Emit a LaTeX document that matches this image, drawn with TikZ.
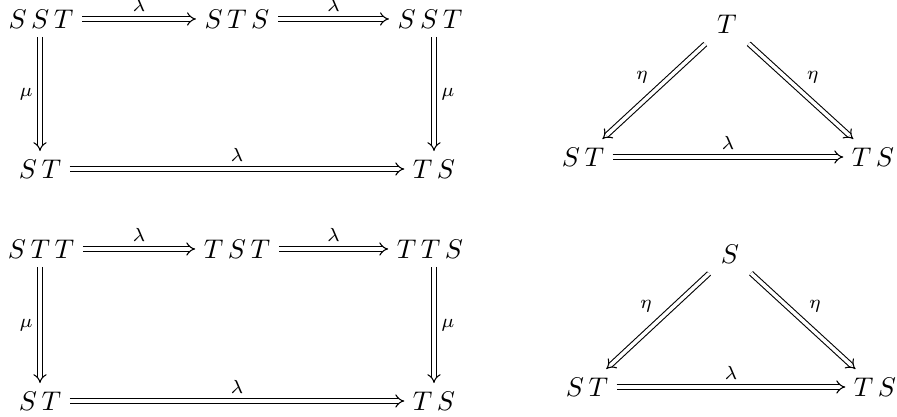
\documentclass[tikz,border=0pt]{standalone}
\usetikzlibrary{arrows.meta}
\begin{document}
\begin{tikzpicture}[x=0.37pt,y=-0.37pt,
  obj/.style={inner sep=2pt, anchor=center},
  dbl/.style={double, double distance=1.3pt, line width=0.4pt, -{Implies}, shorten >=1pt, shorten <=1pt},
  diag/.style={dbl, shorten <=3pt, shorten >=1.5pt},
  lbl/.style={font=\scriptsize, inner sep=2.5pt}]
\useasboundingbox (0,0) rectangle (897,417);
% square 1
\node[obj] (a1) at (41,19) {$S\,S\,T$};
\node[obj] (a2) at (237,19) {$S\,T\,S$};
\node[obj] (a3) at (430,19) {$S\,S\,T$};
\node[obj] (a4) at (40,169) {$S\,T$};
\node[obj] (a5) at (434,169) {$T\,S$};
\draw[dbl] (a1) -- node[lbl,above]{$\lambda$} (a2);
\draw[dbl] (a2) -- node[lbl,above]{$\lambda$} (a3);
\draw[dbl] (a4) -- node[lbl,above]{$\lambda$} (a5);
\draw[dbl] (a1.south -| a4.north) -- node[lbl,left]{$\mu$} (a4.north);
\draw[dbl] (a3.south -| a5.north) -- node[lbl,right]{$\mu$} (a5.north);
% square 2
\node[obj] (b1) at (41,249) {$S\,T\,T$};
\node[obj] (b2) at (237,249) {$T\,S\,T$};
\node[obj] (b3) at (430,249) {$T\,T\,S$};
\node[obj] (b4) at (40,401) {$S\,T$};
\node[obj] (b5) at (434,401) {$T\,S$};
\draw[dbl] (b1) -- node[lbl,above]{$\lambda$} (b2);
\draw[dbl] (b2) -- node[lbl,above]{$\lambda$} (b3);
\draw[dbl] (b4) -- node[lbl,above]{$\lambda$} (b5);
\draw[dbl] (b1.south -| b4.north) -- node[lbl,left]{$\mu$} (b4.north);
\draw[dbl] (b3.south -| b5.north) -- node[lbl,right]{$\mu$} (b5.north);
% triangle 1
\node[obj] (t1) at (727,24) {$T$};
\node[obj] (t2) at (583,157) {$S\,T$};
\node[obj] (t3) at (873,157) {$T\,S$};
\draw[diag] (t1) -- node[lbl,above left]{$\eta$} (t2);
\draw[diag] (t1) -- node[lbl,above right]{$\eta$} (t3);
\draw[dbl] (t2) -- node[lbl,above]{$\lambda$} (t3);
% triangle 2
\node[obj] (u1) at (730,254) {$S$};
\node[obj] (u2) at (587,387) {$S\,T$};
\node[obj] (u3) at (875,387) {$T\,S$};
\draw[diag] (u1) -- node[lbl,above left]{$\eta$} (u2);
\draw[diag] (u1) -- node[lbl,above right]{$\eta$} (u3);
\draw[dbl] (u2) -- node[lbl,above]{$\lambda$} (u3);
\end{tikzpicture}
\end{document}
